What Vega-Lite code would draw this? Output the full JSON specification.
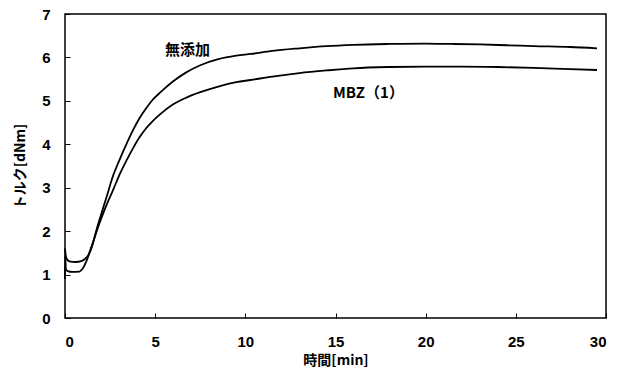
{
  "$schema": "https://vega.github.io/schema/vega-lite/v6.json",
  "width": 541,
  "height": 304,
  "autosize": {"type": "none"},
  "padding": {"left": 65, "top": 14, "right": 19, "bottom": 58},
  "background": "white",
  "config": {
    "view": {"stroke": "black", "strokeWidth": 1.5},
    "axis": {"grid": false, "domain": false, "labelFont": "Liberation Sans", "labelFontWeight": "bold", "labelFontSize": 15, "labelColor": "black", "tickColor": "black", "titleColor": "black", "titleFont": "Noto Sans CJK JP", "titleFontWeight": "bold", "titleFontSize": 14}
  },
  "datasets": {
    "curves": [
      {"t": 0, "v": 1.6, "s": "無添加"},
      {"t": 0.05, "v": 1.42, "s": "無添加"},
      {"t": 0.15, "v": 1.33, "s": "無添加"},
      {"t": 0.3, "v": 1.3, "s": "無添加"},
      {"t": 0.6, "v": 1.29, "s": "無添加"},
      {"t": 0.9, "v": 1.31, "s": "無添加"},
      {"t": 1.1, "v": 1.36, "s": "無添加"},
      {"t": 1.3, "v": 1.45, "s": "無添加"},
      {"t": 1.5, "v": 1.65, "s": "無添加"},
      {"t": 1.76, "v": 2.05, "s": "無添加"},
      {"t": 2.0, "v": 2.38, "s": "無添加"},
      {"t": 2.3, "v": 2.78, "s": "無添加"},
      {"t": 2.67, "v": 3.28, "s": "無添加"},
      {"t": 3.0, "v": 3.62, "s": "無添加"},
      {"t": 3.4, "v": 4.0, "s": "無添加"},
      {"t": 3.8, "v": 4.35, "s": "無添加"},
      {"t": 4.13, "v": 4.6, "s": "無添加"},
      {"t": 4.5, "v": 4.83, "s": "無添加"},
      {"t": 4.85, "v": 5.02, "s": "無添加"},
      {"t": 5.3, "v": 5.2, "s": "無添加"},
      {"t": 6.0, "v": 5.45, "s": "無添加"},
      {"t": 6.7, "v": 5.65, "s": "無添加"},
      {"t": 7.5, "v": 5.82, "s": "無添加"},
      {"t": 8.5, "v": 5.96, "s": "無添加"},
      {"t": 9.5, "v": 6.04, "s": "無添加"},
      {"t": 10.3, "v": 6.08, "s": "無添加"},
      {"t": 11.5, "v": 6.15, "s": "無添加"},
      {"t": 13, "v": 6.21, "s": "無添加"},
      {"t": 14.5, "v": 6.26, "s": "無添加"},
      {"t": 16, "v": 6.29, "s": "無添加"},
      {"t": 18, "v": 6.31, "s": "無添加"},
      {"t": 20, "v": 6.32, "s": "無添加"},
      {"t": 21.5, "v": 6.31, "s": "無添加"},
      {"t": 23, "v": 6.3, "s": "無添加"},
      {"t": 24.5, "v": 6.28, "s": "無添加"},
      {"t": 26, "v": 6.26, "s": "無添加"},
      {"t": 28, "v": 6.24, "s": "無添加"},
      {"t": 29.5, "v": 6.21, "s": "無添加"},
      {"t": 0, "v": 0.9, "s": "MBZ"},
      {"t": 0.01, "v": 1.45, "s": "MBZ"},
      {"t": 0.05, "v": 1.12, "s": "MBZ"},
      {"t": 0.15, "v": 1.08, "s": "MBZ"},
      {"t": 0.4, "v": 1.06, "s": "MBZ"},
      {"t": 0.8, "v": 1.07, "s": "MBZ"},
      {"t": 1.0, "v": 1.15, "s": "MBZ"},
      {"t": 1.2, "v": 1.32, "s": "MBZ"},
      {"t": 1.45, "v": 1.62, "s": "MBZ"},
      {"t": 1.76, "v": 2.0, "s": "MBZ"},
      {"t": 2.0, "v": 2.28, "s": "MBZ"},
      {"t": 2.3, "v": 2.6, "s": "MBZ"},
      {"t": 2.67, "v": 2.95, "s": "MBZ"},
      {"t": 3.0, "v": 3.28, "s": "MBZ"},
      {"t": 3.4, "v": 3.62, "s": "MBZ"},
      {"t": 3.8, "v": 3.93, "s": "MBZ"},
      {"t": 4.13, "v": 4.16, "s": "MBZ"},
      {"t": 4.5, "v": 4.37, "s": "MBZ"},
      {"t": 4.85, "v": 4.53, "s": "MBZ"},
      {"t": 5.3, "v": 4.7, "s": "MBZ"},
      {"t": 6.0, "v": 4.92, "s": "MBZ"},
      {"t": 6.7, "v": 5.07, "s": "MBZ"},
      {"t": 7.5, "v": 5.2, "s": "MBZ"},
      {"t": 8.5, "v": 5.33, "s": "MBZ"},
      {"t": 9.5, "v": 5.43, "s": "MBZ"},
      {"t": 10.3, "v": 5.48, "s": "MBZ"},
      {"t": 11.5, "v": 5.56, "s": "MBZ"},
      {"t": 13, "v": 5.64, "s": "MBZ"},
      {"t": 14.5, "v": 5.7, "s": "MBZ"},
      {"t": 16, "v": 5.75, "s": "MBZ"},
      {"t": 18, "v": 5.78, "s": "MBZ"},
      {"t": 20, "v": 5.79, "s": "MBZ"},
      {"t": 22, "v": 5.79, "s": "MBZ"},
      {"t": 24, "v": 5.78, "s": "MBZ"},
      {"t": 26, "v": 5.76, "s": "MBZ"},
      {"t": 28, "v": 5.73, "s": "MBZ"},
      {"t": 29.5, "v": 5.71, "s": "MBZ"}
    ],
    "labels": [
      {"t": 5.55, "v": 6.17, "text": "無添加"},
      {"t": 14.86, "v": 5.18, "text": "MBZ（1）"}
    ]
  },
  "layer": [
    {
      "data": {"name": "curves"},
      "mark": {"type": "line", "color": "black", "strokeWidth": 1.8, "interpolate": "monotone"},
      "encoding": {
        "x": {"field": "t", "type": "quantitative", "scale": {"domain": [0, 30]}, "axis": {"values": [0, 5, 10, 15, 20, 25, 30], "tickSize": -5, "labelPadding": 21, "title": "時間[min]", "titlePadding": 4}},
        "y": {"field": "v", "type": "quantitative", "scale": {"domain": [0, 7]}, "axis": {"values": [0, 1, 2, 3, 4, 5, 6, 7], "tickSize": -5, "labelPadding": 20, "title": "トルク[dNm]", "titlePadding": 14}},
        "detail": {"field": "s"},
        "order": {"field": "t", "type": "quantitative"}
      }
    },
    {
      "data": {"name": "labels"},
      "mark": {"type": "text", "align": "left", "baseline": "middle", "font": "Noto Sans CJK JP", "fontWeight": "bold", "fontSize": 15, "color": "black"},
      "encoding": {
        "x": {"field": "t", "type": "quantitative"},
        "y": {"field": "v", "type": "quantitative"},
        "text": {"field": "text"}
      }
    }
  ]
}
